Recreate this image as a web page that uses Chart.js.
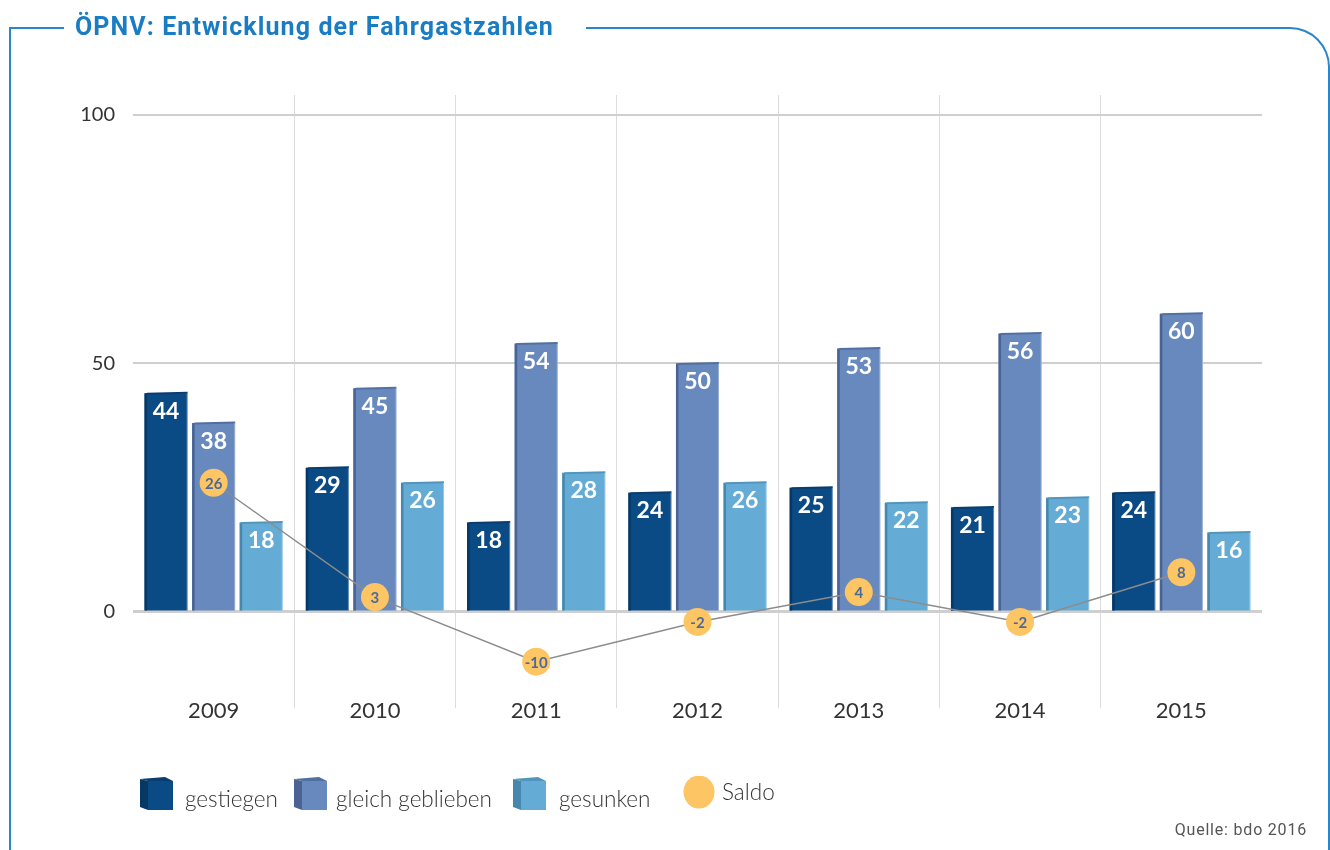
<!DOCTYPE html>
<html><head><meta charset="utf-8">
<script src="https://cdn.jsdelivr.net/npm/chart.js@4.4.0/dist/chart.umd.min.js"></script>
<style>
html,body{margin:0;padding:0;background:#fff;}
#wrap{position:relative;width:1330px;height:850px;overflow:hidden;background:#fff;}
#c{position:absolute;left:0;top:0;}
.ln{position:absolute;background:#2a86cc;}
#rt{position:absolute;left:586px;top:27px;width:744px;height:900px;border-top:2px solid #2a86cc;border-right:2px solid #2a86cc;border-top-right-radius:40px;box-sizing:border-box;}
#title{position:absolute;left:75px;top:12px;font:700 25px Roboto;color:#1a7cc3;white-space:nowrap;letter-spacing:1.1px;}
#src{position:absolute;right:23px;top:820px;font:400 16px Roboto;color:#555;letter-spacing:0.8px;white-space:nowrap;}
.lg{position:absolute;top:775px;height:36px;display:flex;align-items:center;font:300 22.5px Lato;color:#333;white-space:nowrap;}
.lg svg{display:block;}
</style></head>
<body>
<div id="wrap">
  <canvas id="c" width="1330" height="850"></canvas>
  <div class="ln" style="left:9px;top:27px;width:2px;height:830px;"></div>
  <div class="ln" style="left:9px;top:27px;width:55px;height:2px;"></div>
  <div id="rt"></div>
  <div id="title">ÖPNV: Entwicklung der Fahrgastzahlen</div>
  <div id="legend"></div>
  <div id="src">Quelle: bdo 2016</div>
</div>
<script>
const years = ['2009','2010','2011','2012','2013','2014','2015'];
const gestiegen = [44, 29, 18, 24, 25, 21, 24];
const gleichGeblieben = [38, 45, 54, 50, 53, 56, 60];
const gesunken = [18, 26, 28, 26, 22, 23, 16];
const saldo = [26, 3, -10, -2, 4, -2, 8];
const yTickValues = [0, 50, 100];
const seriesNames = ['gestiegen', 'gleich geblieben', 'gesunken', 'Saldo'];

const bar3d = {
  id: 'bar3d',
  afterDatasetDraw(chart, args) {
    const ds = chart.data.datasets[args.index];
    if (ds.type === 'line') return;
    const ctx = chart.ctx;
    ctx.save();
    args.meta.data.forEach(el => {
      const p = el.getProps(['x', 'y', 'base', 'width'], true);
      const l = p.x - p.width / 2, r = p.x + p.width / 2;
      ctx.fillStyle = ds.sideColor;
      ctx.fillRect(l, p.y, 2.5, p.base - p.y);
      ctx.fillStyle = ds.topColor;
      ctx.beginPath();
      ctx.moveTo(l, p.y + 1.5);
      ctx.lineTo(l + 2.5, p.y - 0.5);
      ctx.lineTo(r, p.y - 1.5);
      ctx.lineTo(r, p.y + 0.5);
      ctx.closePath();
      ctx.fill();
      ctx.fillStyle = 'rgba(255,255,255,0.35)';
      ctx.fillRect(r - 1, p.y, 1, p.base - p.y);
    });
    ctx.restore();
  }
};

const valueLabels = {
  id: 'valueLabels',
  afterDatasetsDraw(chart) {
    const ctx = chart.ctx;
    ctx.save();
    ctx.textAlign = 'center';
    ctx.textBaseline = 'middle';
    chart.data.datasets.forEach((ds, i) => {
      const meta = chart.getDatasetMeta(i);
      meta.data.forEach((el, j) => {
        const v = ds.data[j];
        if (ds.type === 'line') {
          ctx.font = '700 15px Lato';
          ctx.fillStyle = '#4c6a98';
          ctx.fillText(String(v), el.x, el.y + 1);
        } else {
          ctx.font = '700 23px Lato';
          ctx.fillStyle = '#ffffff';
          ctx.fillText(String(v), el.x, el.y + 18);
        }
      });
    });
    ctx.restore();
  }
};

const chart = new Chart(document.getElementById('c'), {
  data: {
    labels: years,
    datasets: [
      { type: 'line', label: seriesNames[3], data: saldo, order: 0,
        borderColor: '#8c8c8c', borderWidth: 1.5, tension: 0,
        pointRadius: 14, pointHoverRadius: 14, pointBorderWidth: 0,
        pointBackgroundColor: '#fdc563', pointBorderColor: '#fdc563' },
      { type: 'bar', label: seriesNames[0], data: gestiegen, order: 1,
        backgroundColor: '#0a4a85', sideColor: '#063866', topColor: '#0a3d6e' },
      { type: 'bar', label: seriesNames[1], data: gleichGeblieben, order: 1,
        backgroundColor: '#6789bd', sideColor: '#4a6394', topColor: '#516fa0' },
      { type: 'bar', label: seriesNames[2], data: gesunken, order: 1,
        backgroundColor: '#64acd6', sideColor: '#4688ad', topColor: '#5195bd' }
    ]
  },
  options: {
    responsive: false,
    animation: false,
    events: [],
    layout: { padding: { left: 0, top: 95, right: 68, bottom: 0 } },
    datasets: { bar: { categoryPercentage: 0.885, barPercentage: 0.905, borderWidth: 0 } },
    plugins: { legend: { display: false }, tooltip: { enabled: false }, title: { display: false } },
    scales: {
      x: {
        offset: true,
        afterFit(s) { s.height = 152; },
        grid: {
          offset: true, drawTicks: true, tickLength: 10, lineWidth: 1,
          color: c => (c.type === 'tick' && c.index > 0) ? '#dcdcdc' : 'rgba(0,0,0,0)'
        },
        border: { display: false },
        ticks: { font: { family: 'Lato', size: 22 }, color: '#333', padding: -10 }
      },
      y: {
        min: -17.3, max: 104,
        afterFit(s) { s.width = 133; },
        afterBuildTicks(s) { s.ticks = yTickValues.map(v => ({ value: v })); },
        grid: { drawTicks: false, color: '#cfcfcf',
          lineWidth: c => (c.tick && c.tick.value === 0) ? 3 : 2 },
        border: { display: false },
        ticks: { font: { family: 'Lato', size: 20 }, color: '#333', padding: 18 }
      }
    }
  },
  plugins: [bar3d, valueLabels]
});

// HTML legend built from the chart datasets
(function () {
  const lefts = [140, 294, 513, 683];
  const gaps = [11, 8, 12, 7];
  const order = [1, 2, 3, 0];
  const leg = document.getElementById('legend');
  order.forEach((di, k) => {
    const ds = chart.data.datasets[di];
    const item = document.createElement('div');
    item.className = 'lg';
    item.style.left = lefts[k] + 'px';
    let icon;
    if (ds.type === 'line') {
      icon = `<svg width="32" height="34"><ellipse cx="16" cy="16" rx="15.5" ry="16.5" fill="${ds.pointBackgroundColor}"/></svg>`;
    } else {
      icon = `<svg width="34" height="34">
        <polygon points="0,3 8,5 8,34 0,31" fill="${ds.sideColor}"/>
        <polygon points="0,3 25,1 33,5 8,5" fill="${ds.topColor}"/>
        <rect x="8" y="5" width="25" height="29" fill="${ds.backgroundColor}"/></svg>`;
    }
    const span = `<span style="margin-left:${gaps[k]}px;position:relative;top:${ds.type === 'line' ? -2 : 5}px">${ds.label}</span>`;
    item.innerHTML = icon + span;
    leg.appendChild(item);
  });
})();
</script>
</body></html>
